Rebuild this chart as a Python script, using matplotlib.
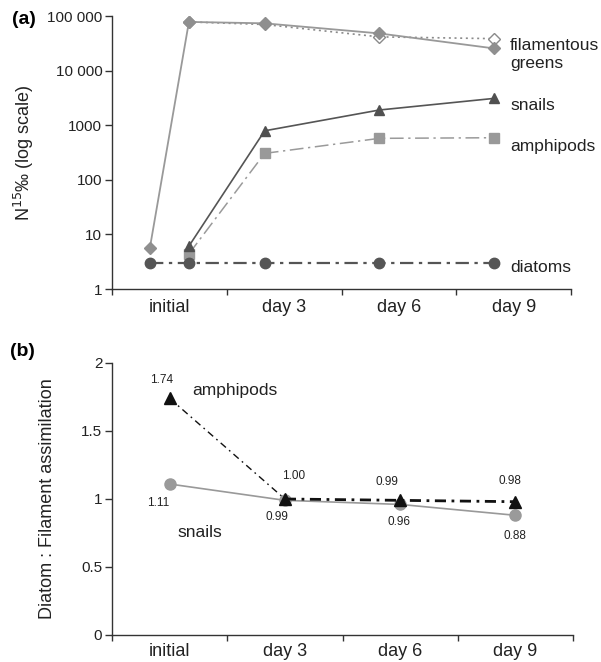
import numpy as np
import matplotlib
matplotlib.use("Agg")
import matplotlib.pyplot as plt
from matplotlib.ticker import FixedLocator, NullLocator

plt.rcParams['font.family'] = ['Liberation Sans', 'DejaVu Sans']

categories = ['initial', 'day 3', 'day 6', 'day 9']

# panel (a): sampling positions on the category axis
pos_all = [-0.17, 0.17, 0.83, 1.83, 2.83]
pos_late = [0.17, 0.83, 1.83, 2.83]

greens_filled = [5.7, 78000, 73500, 48000, 25500]
greens_open = [78000, 70000, 41500, 38500]
snails_a = [6.1, 790, 1900, 3100]
amphipods_a = [4.4, 305, 575, 590]
diatoms_a = [3, 3, 3, 3, 3]

a_ticks = [1, 10, 100, 1000, 10000, 100000]
a_ticklabels = ['1', '10', '100', '1000', '10 000', '100 000']

# panel (b)
amphipods_b = [1.74, 1.00, 0.99, 0.98]
snails_b = [1.11, 0.99, 0.96, 0.88]

fig = plt.figure(figsize=(6.01, 6.62), dpi=100)
axa = fig.add_axes([0.1864, 0.5634, 0.7637, 0.4124])
axb = fig.add_axes([0.1864, 0.0408, 0.767, 0.4109])

axis_col = '#333333'


def style_axis(ax, xpad):
    for s in ['top', 'right']:
        ax.spines[s].set_visible(False)
    for s in ['left', 'bottom']:
        ax.spines[s].set_color(axis_col)
        ax.spines[s].set_linewidth(1.0)
    ax.set_xlim(-0.5, 3.5)
    ax.xaxis.set_major_locator(FixedLocator(np.arange(-0.5, 4.0, 1.0)))
    ax.xaxis.set_minor_locator(FixedLocator(np.arange(4)))
    ax.set_xticklabels([], minor=False)
    ax.set_xticklabels(categories, minor=True, fontsize=13, color='#222222')
    ax.tick_params(axis='x', which='major', length=4, width=1, color=axis_col, direction='out')
    ax.tick_params(axis='x', which='minor', length=0, pad=xpad)
    ax.tick_params(axis='y', length=5, width=1, color=axis_col, direction='out',
                   labelsize=11, labelcolor='#222222', pad=2)


# ---- (a)
axa.set_yscale('log')
axa.set_ylim(1, 100000)
axa.plot(pos_late, greens_open, color='#8a8a8a', ls=(0, (1.2, 2.2)), lw=1.2,
         marker='D', ms=6.5, mfc='white', mec='#8a8a8a', mew=1.0, zorder=3)
axa.plot(pos_all, greens_filled, color='#999999', lw=1.3, marker='D', ms=6.5,
         mfc='#8f8f8f', mec='#8f8f8f', zorder=4)
axa.plot(pos_late, amphipods_a, color='#9a9a9a', ls=(0, (9, 3, 1.5, 3)), lw=1.1,
         marker='s', ms=7, mfc='#999999', mec='#999999', zorder=4)
axa.plot(pos_late, snails_a, color='#555555', lw=1.2, marker='^', ms=7.5,
         mfc='#505050', mec='#505050', zorder=5)
axa.plot(pos_all, diatoms_a, color='#555555', ls=(0, (6, 2.5, 1.5, 2.5)), lw=1.6,
         marker='o', ms=7.5, mfc='#555555', mec='#555555', zorder=5)
style_axis(axa, 7.5)
axa.yaxis.set_major_locator(FixedLocator(a_ticks))
axa.yaxis.set_minor_locator(NullLocator())
axa.set_yticklabels(a_ticklabels)
axa.set_ylabel('N$^{15}$‰ (log scale)', fontsize=13, color='#222222', labelpad=8)

lab_kw = dict(fontsize=12.5, color='#222222', ha='left', va='center', clip_on=False)
axa.text(2.97, 19700, 'filamentous\ngreens', linespacing=1.25, **lab_kw)
axa.text(2.97, 2250, 'snails', **lab_kw)
axa.text(2.97, 416, 'amphipods', **lab_kw)
axa.text(2.97, 2.53, 'diatoms', **lab_kw)

# ---- (b)
x = np.arange(len(categories))
axb.set_ylim(0, 2)
axb.plot(x, snails_b, color='#999999', lw=1.2, marker='o', ms=8,
         mfc='#9a9a9a', mec='#9a9a9a', zorder=3)
axb.plot(x[:2], amphipods_b[:2], color='#111111', ls=(0, (5, 3, 1.2, 3)), lw=1.0, zorder=4)
axb.plot(x[1:], amphipods_b[1:], color='#111111', ls=(0, (4, 2, 1, 2)), lw=2.0, zorder=4)
axb.plot(x, amphipods_b, ls='none', marker='^', ms=8, mfc='#111111', mec='#111111', zorder=5)
style_axis(axb, 5.5)
axb.yaxis.set_major_locator(FixedLocator([0, 0.5, 1, 1.5, 2]))
axb.set_yticklabels(['0', '0.5', '1', '1.5', '2'])
axb.set_ylabel('Diatom : Filament assimilation', fontsize=13, color='#222222', labelpad=18)

num_kw = dict(fontsize=8.5, color='#222222', ha='center', va='center')
amph_lab_pos = [(-0.066, 1.875), (1.08, 1.17), (1.886, 1.125), (2.95, 1.132)]
snail_lab_pos = [(-0.10, 0.97), (0.93, 0.868), (1.99, 0.831), (2.997, 0.728)]
for v, (tx, ty) in zip(amphipods_b, amph_lab_pos):
    axb.text(tx, ty, f'{v:.2f}', **num_kw)
for v, (tx, ty) in zip(snails_b, snail_lab_pos):
    axb.text(tx, ty, f'{v:.2f}', **num_kw)
axb.text(0.194, 1.80, 'amphipods', fontsize=12.5, color='#222222', ha='left', va='center')
axb.text(0.064, 0.757, 'snails', fontsize=12.5, color='#222222', ha='left', va='center')

fig.text(12 / 601, 1 - 20 / 662, '(a)', fontsize=14, fontweight='bold', ha='left', va='center')
fig.text(10 / 601, 1 - 352 / 662, '(b)', fontsize=14, fontweight='bold', ha='left', va='center')

fig.savefig('out.png', dpi=100)
